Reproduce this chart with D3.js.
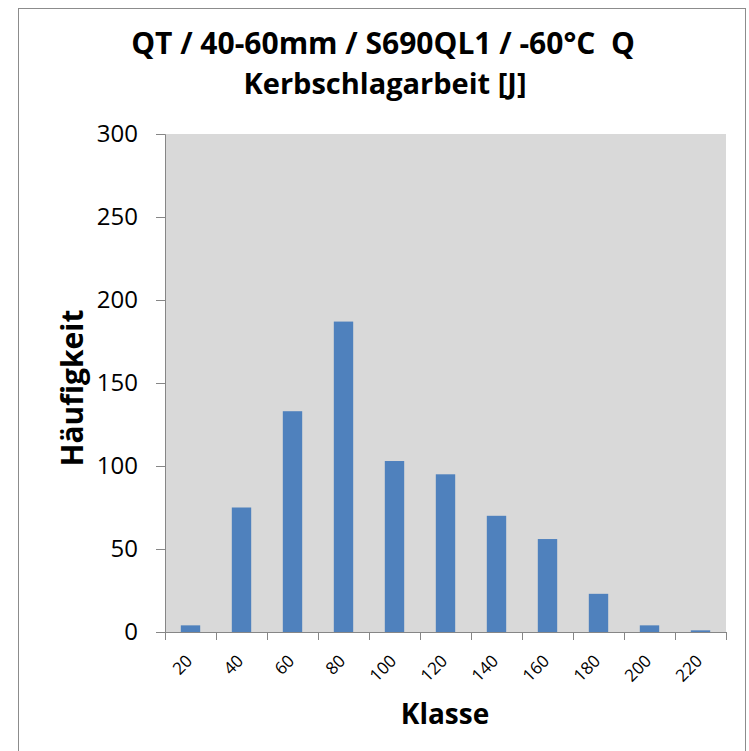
<!DOCTYPE html>
<html>
<head>
<meta charset="utf-8">
<script src="https://cdn.jsdelivr.net/npm/d3@7"></script>
<style>
  body { margin: 0; background: #fff; }
  svg text { font-family: "Open Sans", "Noto Sans", sans-serif; fill: #000; }
</style>
</head>
<body>
<div class="container"></div>
<script>
const classes = ['20', '40', '60', '80', '100', '120', '140', '160', '180', '200', '220']
const counts = [4, 75, 133, 187, 103, 95, 70, 56, 23, 4, 1]
const yTicks = [0, 50, 100, 150, 200, 250, 300]

let width = 749
let height = 751
let margin = {
    left: 165,
    right: 23,
    top: 134,
    bottom: 119
}

let svg = d3.select('.container')
    .append('svg')
    .attr('width', width)
    .attr('height', height)

// outer frame
svg.append('rect')
    .attr('x', 18.5)
    .attr('y', 8.5)
    .attr('width', 727)
    .attr('height', 760)
    .attr('fill', '#fff')
    .attr('stroke', '#8c8c8c')

let x = d3.scaleBand()
    .domain(classes)
    .range([margin.left, width - margin.right])
    .paddingInner(0.62)
    .paddingOuter(0.31)

let y = d3.scaleLinear()
    .domain([0, 300])
    .range([height - margin.bottom, margin.top])

svg.append('rect')
    .attr('x', margin.left)
    .attr('y', margin.top)
    .attr('width', width - margin.left - margin.right)
    .attr('height', height - margin.top - margin.bottom)
    .attr('fill', '#d9d9d9')

svg.append('g')
    .selectAll('rect')
    .data(counts)
    .enter()
    .append('rect')
    .attr('x', (d, i) => x(classes[i]))
    .attr('y', (d) => y(d))
    .attr('width', x.bandwidth())
    .attr('height', (d) => y(0) - y(d))
    .attr('fill', '#4f81bd')

// y axis
let yAxis = svg.append('g')
    .attr('transform', `translate(${margin.left},0)`)
    .call(d3.axisLeft(y).tickValues(yTicks).tickSize(9).tickPadding(18))
yAxis.selectAll('line, path').attr('stroke', '#868686')
yAxis.selectAll('text').attr('font-size', 24).attr('fill', '#222')

// x axis: ticks at class boundaries
let step = x.step()
let boundaries = d3.range(classes.length + 1).map(i => margin.left + i * step)
let xAxisG = svg.append('g')
xAxisG.append('line')
    .attr('x1', margin.left).attr('x2', width - margin.right)
    .attr('y1', y(0) + 0.5).attr('y2', y(0) + 0.5)
    .attr('stroke', '#868686')
xAxisG.selectAll('.tick')
    .data(boundaries)
    .enter()
    .append('line')
    .attr('x1', d => Math.round(d) + 0.5).attr('x2', d => Math.round(d) + 0.5)
    .attr('y1', y(0)).attr('y2', y(0) + 8)
    .attr('stroke', '#868686')

xAxisG.selectAll('.lbl')
    .data(classes)
    .enter()
    .append('text')
    .attr('text-anchor', 'end')
    .attr('font-size', 17)
    .attr('fill', '#222')
    .attr('transform', d => `translate(${x(d) + x.bandwidth() / 2 + 3},${y(0) + 30}) rotate(-45)`)
    .text(d => d)

// titles
svg.append('text')
    .attr('x', 383)
    .attr('y', 54)
    .attr('text-anchor', 'middle')
    .attr('font-size', 30)
    .attr('font-weight', 'bold')
    .style('white-space', 'pre')
    .text('QT / 40-60mm / S690QL1 / -60°C  Q')

svg.append('text')
    .attr('x', 385)
    .attr('y', 94)
    .attr('text-anchor', 'middle')
    .attr('font-size', 29)
    .attr('font-weight', 'bold')
    .text('Kerbschlagarbeit [J]')

svg.append('text')
    .attr('transform', 'translate(83,388) rotate(-90)')
    .attr('text-anchor', 'middle')
    .attr('font-size', 30)
    .attr('font-weight', 'bold')
    .text('Häufigkeit')

svg.append('text')
    .attr('x', 445)
    .attr('y', 724)
    .attr('text-anchor', 'middle')
    .attr('font-size', 28)
    .attr('font-weight', 'bold')
    .text('Klasse')
</script>
</body>
</html>
